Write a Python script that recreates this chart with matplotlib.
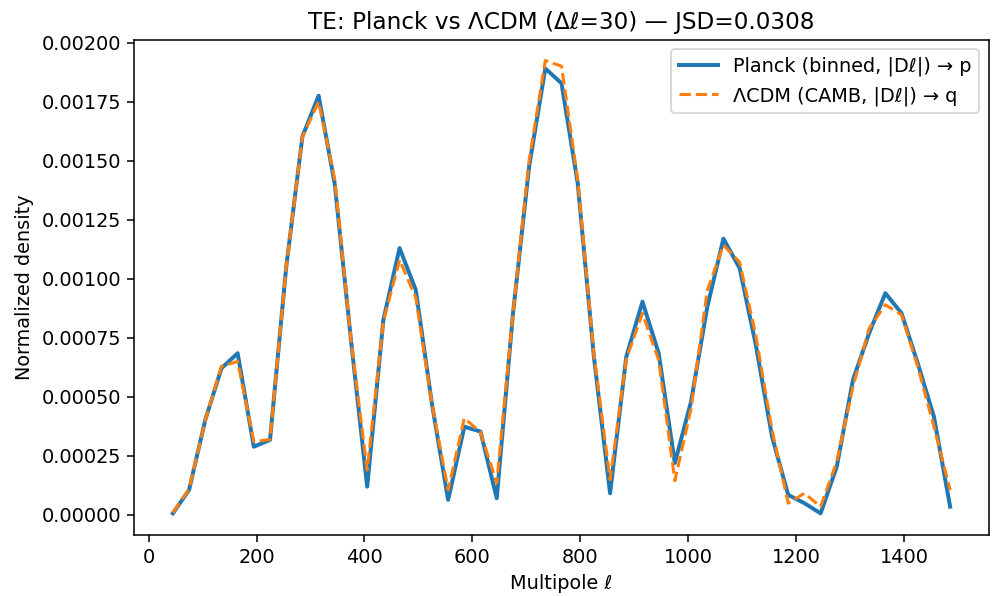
import numpy as np
import matplotlib
matplotlib.use("Agg")
import matplotlib.pyplot as plt

# Bin centres (Δℓ = 30)
ell = [45, 75, 105, 135, 165, 195, 225, 255, 285, 315, 345, 375, 405, 435, 465, 495,
       525, 555, 585, 615, 645, 675, 705, 735, 765, 795, 825, 855, 885, 915, 945, 975,
       1005, 1035, 1065, 1095, 1125, 1155, 1185, 1215, 1245, 1275, 1305, 1335, 1365,
       1395, 1425, 1455, 1485]

planck_p = [0.000007, 0.000106, 0.000402, 0.000621, 0.000685, 0.000289, 0.000318,
            0.001050, 0.001602, 0.001775, 0.001400, 0.000740, 0.000120, 0.000826,
            0.001130, 0.000953, 0.000470, 0.000064, 0.000374, 0.000353, 0.000071,
            0.000850, 0.001475, 0.001890, 0.001828, 0.001405, 0.000670, 0.000092,
            0.000670, 0.000903, 0.000685, 0.000220, 0.000480, 0.000880, 0.001170,
            0.001045, 0.000720, 0.000332, 0.000085, 0.000050, 0.000007, 0.000205,
            0.000572, 0.000770, 0.000939, 0.000854, 0.000642, 0.000416, 0.000035]

lcdm_q = [0.000010, 0.000110, 0.000400, 0.000630, 0.000650, 0.000310, 0.000320,
          0.001050, 0.001600, 0.001750, 0.001420, 0.000740, 0.000190, 0.000820,
          0.001080, 0.000920, 0.000470, 0.000106, 0.000410, 0.000350, 0.000135,
          0.000850, 0.001500, 0.001924, 0.001900, 0.001420, 0.000680, 0.000150,
          0.000660, 0.000854, 0.000656, 0.000145, 0.000450, 0.000950, 0.001143,
          0.001070, 0.000760, 0.000360, 0.000050, 0.000092, 0.000035, 0.000226,
          0.000543, 0.000790, 0.000890, 0.000847, 0.000628, 0.000374, 0.000106]

title = "TE: Planck vs \u039bCDM (\u0394\u2113=30) \u2014 JSD=0.0308"
label_p = "Planck (binned, |D\u2113|) \u2192 p"
label_q = "\u039bCDM (CAMB, |D\u2113|) \u2192 q"

s = 1.07
plt.rcParams.update({
    "font.size": 10 * s,
    "axes.linewidth": 0.8 * s,
    "xtick.major.width": 0.8 * s,
    "ytick.major.width": 0.8 * s,
    "xtick.major.size": 3.5 * s,
    "ytick.major.size": 3.5 * s,
})

dpi = 130
fig = plt.figure(figsize=(992 / dpi, 596 / dpi), dpi=dpi)
ax = fig.add_axes([134 / 992, 1 - 535 / 596, (989 - 134) / 992, (535 - 39.5) / 596])

ax.plot(ell, planck_p, color="#1f77b4", lw=2.2, label=label_p)
ax.plot(ell, lcdm_q, color="#ff7f0e", lw=1.7, ls="--", label=label_q)

ax.set_title(title, fontsize=12 * s)
ax.set_xlabel("Multipole \u2113")
ax.set_ylabel("Normalized density")
ax.set_xticks([0, 200, 400, 600, 800, 1000, 1200, 1400])
ax.set_yticks([0, 0.00025, 0.0005, 0.00075, 0.001, 0.00125, 0.0015, 0.00175, 0.002])
ax.set_yticklabels([f"{v:.5f}" for v in ax.get_yticks()])
ax.set_ylim(-0.0000847, 0.002013)
ax.legend(loc="upper right")

fig.savefig("out.png", dpi=dpi)
